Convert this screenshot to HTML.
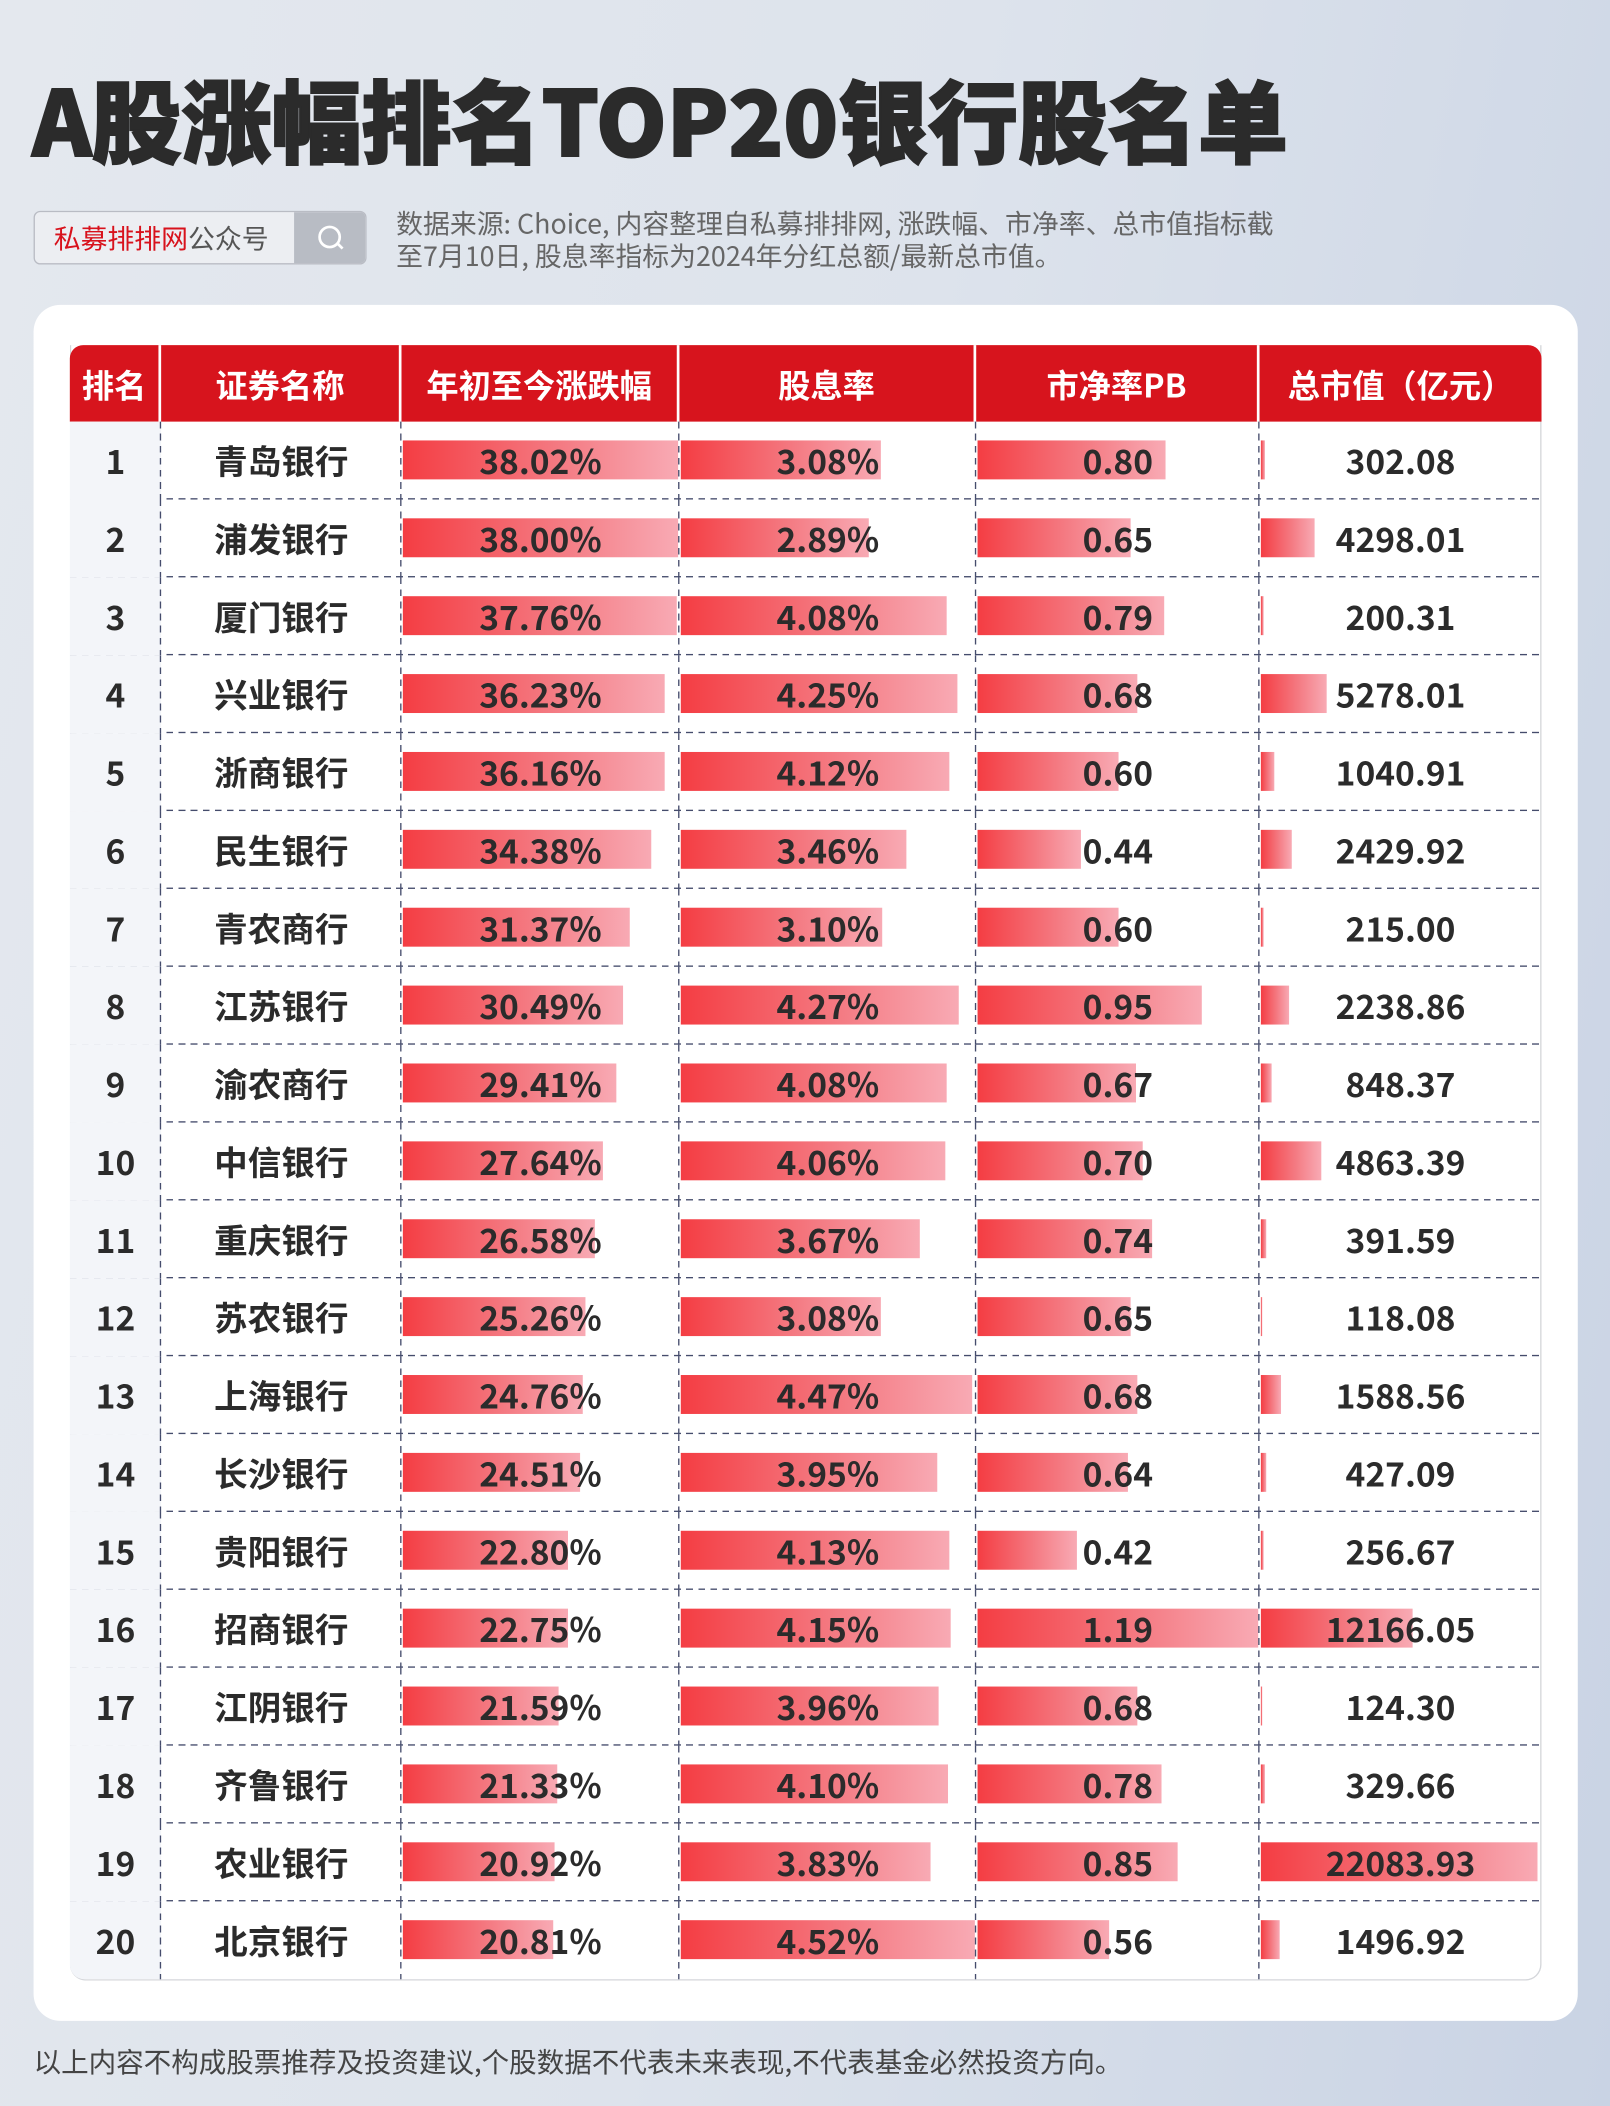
<!DOCTYPE html>
<html><head><meta charset="utf-8"><style>
*{margin:0;padding:0;box-sizing:border-box}
html,body{width:1610px;height:2106px;overflow:hidden}
body{background:linear-gradient(100deg,#e4e8ee 0%,#dde3ec 50%,#c9d3e4 100%);font-family:"Liberation Sans","Noto Sans CJK SC",sans-serif}
#s{position:absolute;left:0;top:0;width:1199px;height:1568px;transform:scale(1.34279);transform-origin:0 0}
.t{position:absolute;left:24px;top:48px;font-size:67px;font-weight:900;color:#2b2b2b;font-family:"Noto Sans CJK SC",sans-serif;letter-spacing:0px;white-space:nowrap;line-height:80px;-webkit-text-stroke:1.5px #2b2b2b}
.sb{position:absolute;left:25px;top:157px;width:248px;height:40px;border:1px solid #b9bcc4;border-radius:5px;background:#eceef2;overflow:hidden}
.sb span{position:absolute;left:14px;top:7px;font-size:20px;color:#555;font-family:"Noto Sans CJK SC",sans-serif;line-height:24px}
.sb b{color:#d8121c;font-weight:400}
.sb i{position:absolute;right:0;top:0;width:53px;height:40px;background:#b8bcc4}
.sb i:before{content:"";position:absolute;left:18px;top:10px;width:13px;height:13px;border:2px solid #fff;border-radius:50%}
.sb i:after{content:"";position:absolute;left:31px;top:24px;width:6px;height:2px;background:#fff;transform:rotate(45deg)}
.src{position:absolute;left:295px;top:154px;font-size:20px;line-height:24px;color:#666;font-family:"Noto Sans CJK SC",sans-serif;white-space:nowrap}
.card{position:absolute;left:25px;top:227px;width:1150px;height:1278px;background:#fff;border-radius:20px}
.tb{position:absolute;left:52px;top:257px;width:1096px;height:1218px;border:1px solid #d4d6da;border-radius:0 0 12px 12px;border-top:none}
.hd{position:absolute;left:52px;top:257px;width:1096px;height:57px;background:#d7141d;border-radius:10px 10px 0 0;display:flex}
.hd div{color:#fff;font-weight:700;font-size:24px;text-align:center;line-height:57px;font-family:"Noto Sans CJK SC",sans-serif;border-right:2px solid #fff}
.hd div:last-child{border-right:none}
.r{position:absolute;left:52px;width:1096px;height:58px;display:flex;background:repeating-linear-gradient(90deg,#454c6c 0 5px,transparent 5px 9px) left bottom/100% 1.3px no-repeat}
.c{position:relative;height:58px;text-align:center;line-height:58px;font-size:25px;font-weight:700;color:#2b2b2b;font-family:"Noto Sans CJK SC",sans-serif}
.c:after{content:"";position:absolute;right:0;top:0;width:1.3px;height:58px;background:repeating-linear-gradient(180deg,#454c6c 0 5px,transparent 5px 9px)}
.c:last-child:after{display:none}
.c0{background:#f3f5f9}
.c b{position:absolute;left:1px;top:14px;height:29px;background:linear-gradient(90deg,#f43d43,#f47880 55%,#f8aab4);}
.c span{position:relative}
.w0{width:68px}.w1{width:179px}.w2{width:207px}.w3{width:221px}.w4{width:211px}.w5{width:210px}
.ft{position:absolute;left:25px;top:1519px;font-size:20.5px;color:#444;font-family:"Noto Sans CJK SC",sans-serif;white-space:nowrap}
</style></head><body><div id="s">
<div class="t">A股涨幅排名TOP20银行股名单</div>
<div class="sb"><span><b>私募排排网</b>公众号</span><i></i></div>
<div class="src">数据来源: Choice, 内容整理自私募排排网, 涨跌幅、市净率、总市值指标截<br>至7月10日, 股息率指标为2024年分红总额/最新总市值。</div>
<div class="card"></div>
<div class="tb"></div>
<div class="hd"><div class="w0">排名</div><div class="w1">证券名称</div><div class="w2">年初至今涨跌幅</div><div class="w3">股息率</div><div class="w4">市净率PB</div><div class="w5">总市值（亿元）</div></div>
<div>
<div class="r" style="top:314px"><div class="c c0 w0">1</div><div class="c w1">青岛银行</div><div class="c w2"><b style="width:205px"></b><span>38.02%</span></div><div class="c w3"><b style="width:149px"></b><span>3.08%</span></div><div class="c w4"><b style="width:140px"></b><span>0.80</span></div><div class="c w5"><b style="width:3px"></b><span>302.08</span></div></div>
<div class="r" style="top:372px"><div class="c c0 w0">2</div><div class="c w1">浦发银行</div><div class="c w2"><b style="width:205px"></b><span>38.00%</span></div><div class="c w3"><b style="width:140px"></b><span>2.89%</span></div><div class="c w4"><b style="width:114px"></b><span>0.65</span></div><div class="c w5"><b style="width:40px"></b><span>4298.01</span></div></div>
<div class="r" style="top:430px"><div class="c c0 w0">3</div><div class="c w1">厦门银行</div><div class="c w2"><b style="width:204px"></b><span>37.76%</span></div><div class="c w3"><b style="width:198px"></b><span>4.08%</span></div><div class="c w4"><b style="width:139px"></b><span>0.79</span></div><div class="c w5"><b style="width:2px"></b><span>200.31</span></div></div>
<div class="r" style="top:488px"><div class="c c0 w0">4</div><div class="c w1">兴业银行</div><div class="c w2"><b style="width:195px"></b><span>36.23%</span></div><div class="c w3"><b style="width:206px"></b><span>4.25%</span></div><div class="c w4"><b style="width:119px"></b><span>0.68</span></div><div class="c w5"><b style="width:49px"></b><span>5278.01</span></div></div>
<div class="r" style="top:546px"><div class="c c0 w0">5</div><div class="c w1">浙商银行</div><div class="c w2"><b style="width:195px"></b><span>36.16%</span></div><div class="c w3"><b style="width:200px"></b><span>4.12%</span></div><div class="c w4"><b style="width:105px"></b><span>0.60</span></div><div class="c w5"><b style="width:10px"></b><span>1040.91</span></div></div>
<div class="r" style="top:604px"><div class="c c0 w0">6</div><div class="c w1">民生银行</div><div class="c w2"><b style="width:185px"></b><span>34.38%</span></div><div class="c w3"><b style="width:168px"></b><span>3.46%</span></div><div class="c w4"><b style="width:77px"></b><span>0.44</span></div><div class="c w5"><b style="width:23px"></b><span>2429.92</span></div></div>
<div class="r" style="top:662px"><div class="c c0 w0">7</div><div class="c w1">青农商行</div><div class="c w2"><b style="width:169px"></b><span>31.37%</span></div><div class="c w3"><b style="width:150px"></b><span>3.10%</span></div><div class="c w4"><b style="width:105px"></b><span>0.60</span></div><div class="c w5"><b style="width:2px"></b><span>215.00</span></div></div>
<div class="r" style="top:720px"><div class="c c0 w0">8</div><div class="c w1">江苏银行</div><div class="c w2"><b style="width:164px"></b><span>30.49%</span></div><div class="c w3"><b style="width:207px"></b><span>4.27%</span></div><div class="c w4"><b style="width:167px"></b><span>0.95</span></div><div class="c w5"><b style="width:21px"></b><span>2238.86</span></div></div>
<div class="r" style="top:778px"><div class="c c0 w0">9</div><div class="c w1">渝农商行</div><div class="c w2"><b style="width:159px"></b><span>29.41%</span></div><div class="c w3"><b style="width:198px"></b><span>4.08%</span></div><div class="c w4"><b style="width:118px"></b><span>0.67</span></div><div class="c w5"><b style="width:8px"></b><span>848.37</span></div></div>
<div class="r" style="top:836px"><div class="c c0 w0">10</div><div class="c w1">中信银行</div><div class="c w2"><b style="width:149px"></b><span>27.64%</span></div><div class="c w3"><b style="width:197px"></b><span>4.06%</span></div><div class="c w4"><b style="width:123px"></b><span>0.70</span></div><div class="c w5"><b style="width:45px"></b><span>4863.39</span></div></div>
<div class="r" style="top:894px"><div class="c c0 w0">11</div><div class="c w1">重庆银行</div><div class="c w2"><b style="width:143px"></b><span>26.58%</span></div><div class="c w3"><b style="width:178px"></b><span>3.67%</span></div><div class="c w4"><b style="width:130px"></b><span>0.74</span></div><div class="c w5"><b style="width:4px"></b><span>391.59</span></div></div>
<div class="r" style="top:952px"><div class="c c0 w0">12</div><div class="c w1">苏农银行</div><div class="c w2"><b style="width:136px"></b><span>25.26%</span></div><div class="c w3"><b style="width:149px"></b><span>3.08%</span></div><div class="c w4"><b style="width:114px"></b><span>0.65</span></div><div class="c w5"><b style="width:1px"></b><span>118.08</span></div></div>
<div class="r" style="top:1010px"><div class="c c0 w0">13</div><div class="c w1">上海银行</div><div class="c w2"><b style="width:134px"></b><span>24.76%</span></div><div class="c w3"><b style="width:217px"></b><span>4.47%</span></div><div class="c w4"><b style="width:119px"></b><span>0.68</span></div><div class="c w5"><b style="width:15px"></b><span>1588.56</span></div></div>
<div class="r" style="top:1068px"><div class="c c0 w0">14</div><div class="c w1">长沙银行</div><div class="c w2"><b style="width:132px"></b><span>24.51%</span></div><div class="c w3"><b style="width:191px"></b><span>3.95%</span></div><div class="c w4"><b style="width:112px"></b><span>0.64</span></div><div class="c w5"><b style="width:4px"></b><span>427.09</span></div></div>
<div class="r" style="top:1126px"><div class="c c0 w0">15</div><div class="c w1">贵阳银行</div><div class="c w2"><b style="width:123px"></b><span>22.80%</span></div><div class="c w3"><b style="width:200px"></b><span>4.13%</span></div><div class="c w4"><b style="width:74px"></b><span>0.42</span></div><div class="c w5"><b style="width:2px"></b><span>256.67</span></div></div>
<div class="r" style="top:1184px"><div class="c c0 w0">16</div><div class="c w1">招商银行</div><div class="c w2"><b style="width:123px"></b><span>22.75%</span></div><div class="c w3"><b style="width:201px"></b><span>4.15%</span></div><div class="c w4"><b style="width:209px"></b><span>1.19</span></div><div class="c w5"><b style="width:113px"></b><span>12166.05</span></div></div>
<div class="r" style="top:1242px"><div class="c c0 w0">17</div><div class="c w1">江阴银行</div><div class="c w2"><b style="width:116px"></b><span>21.59%</span></div><div class="c w3"><b style="width:192px"></b><span>3.96%</span></div><div class="c w4"><b style="width:119px"></b><span>0.68</span></div><div class="c w5"><b style="width:1px"></b><span>124.30</span></div></div>
<div class="r" style="top:1300px"><div class="c c0 w0">18</div><div class="c w1">齐鲁银行</div><div class="c w2"><b style="width:115px"></b><span>21.33%</span></div><div class="c w3"><b style="width:199px"></b><span>4.10%</span></div><div class="c w4"><b style="width:137px"></b><span>0.78</span></div><div class="c w5"><b style="width:3px"></b><span>329.66</span></div></div>
<div class="r" style="top:1358px"><div class="c c0 w0">19</div><div class="c w1">农业银行</div><div class="c w2"><b style="width:113px"></b><span>20.92%</span></div><div class="c w3"><b style="width:186px"></b><span>3.83%</span></div><div class="c w4"><b style="width:149px"></b><span>0.85</span></div><div class="c w5"><b style="width:206px"></b><span>22083.93</span></div></div>
<div class="r" style="top:1416px;background:none"><div class="c c0 w0" style="border-radius:0 0 0 11px">20</div><div class="c w1">北京银行</div><div class="c w2"><b style="width:112px"></b><span>20.81%</span></div><div class="c w3"><b style="width:219px"></b><span>4.52%</span></div><div class="c w4"><b style="width:98px"></b><span>0.56</span></div><div class="c w5"><b style="width:14px"></b><span>1496.92</span></div></div>
</div>
<div class="ft">以上内容不构成股票推荐及投资建议,个股数据不代表未来表现,不代表基金必然投资方向。</div>
</div></body></html>
